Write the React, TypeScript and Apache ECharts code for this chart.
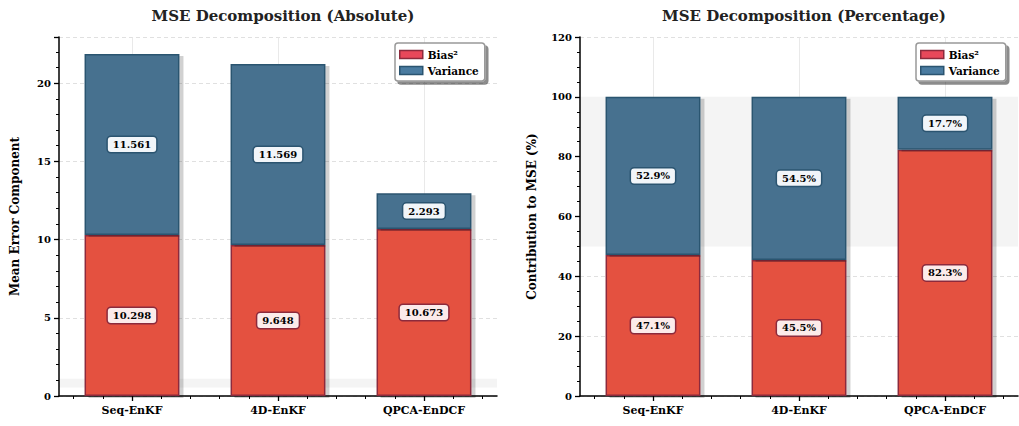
import React, { useEffect, useRef } from "react";
import * as echarts from "echarts";

const categories = ["Seq-EnKF", "4D-EnKF", "QPCA-EnDCF"];
const absBias = [10.298, 9.648, 10.673];
const absVariance = [11.561, 11.569, 2.293];
const pctBias = [47.1, 45.5, 82.3];
const pctVariance = [52.9, 54.5, 17.7];
const minorCats = Array.from({ length: 15 }, (_, i) => "m" + i);

const FONT = "DejaVu Serif";
const RED = "#e4513f";
const RED_EDGE = "#8c2a3c";
const BLUE = "#46718f";
const BLUE_EDGE = "#2b5470";

function App() {
  const ref = useRef<HTMLDivElement>(null);
  useEffect(() => {
    const chart = echarts.init(ref.current!, null, { renderer: "svg" });
    const grids = [
      { left: 59, right: 522, top: 37, bottom: 30 },
      { left: 580, right: 1, top: 37, bottom: 30 },
    ];
    const majorX = (g: number) => ({
      type: "category",
      gridIndex: g,
      data: categories,
      axisLine: { show: true, lineStyle: { color: "#000", width: 1.5 } },
      axisTick: { show: true, alignWithLabel: true, length: 5, lineStyle: { color: "#000", width: 1.3 } },
      axisLabel: { color: "#000", fontFamily: FONT, fontWeight: "bold", fontSize: 11, margin: 9 },
      splitLine: { show: false },
    });
    const minorX = (g: number) => ({
      type: "category",
      gridIndex: g,
      data: minorCats,
      position: "bottom",
      axisLine: { show: false },
      axisTick: { show: true, alignWithLabel: true, interval: 0, length: 3, lineStyle: { color: "#000", width: 1 } },
      axisLabel: { show: false },
      splitLine: { show: false },
    });
    const yAx = (g: number, max: number, interval: number, split: number, name: string, gap: number) => ({
      type: "value",
      gridIndex: g,
      min: 0,
      max,
      interval,
      name,
      nameLocation: "middle",
      nameGap: gap,
      nameTextStyle: { color: "#000", fontFamily: FONT, fontWeight: "bold", fontSize: 12 },
      axisLine: { show: true, lineStyle: { color: "#000", width: 1.5 } },
      axisTick: { show: true, length: 5, lineStyle: { color: "#000", width: 1.3 } },
      minorTick: { show: true, splitNumber: split, length: 3, lineStyle: { color: "#000", width: 1 } },
      axisLabel: { color: "#000", fontFamily: FONT, fontWeight: "bold", fontSize: 10, margin: 8, showMaxLabel: max === 120 },
      splitLine: { show: true, lineStyle: { color: "#d8d8d8", type: [4, 3], width: 0.8 } },
      minorSplitLine: { show: false },
    });
    const barSeries = (
      name: string,
      data: number[],
      xi: number,
      yi: number,
      stack: string,
      color: string,
      edge: string,
      fmt: (v: number) => string,
      labelBg: string
    ) => ({
      type: "bar",
      name,
      data,
      xAxisIndex: xi,
      yAxisIndex: yi,
      stack,
      barWidth: "65%",
      z: 3,
      itemStyle: {
        color,
        borderColor: edge,
        borderWidth: 1.5,
        shadowColor: "rgba(0,0,0,0.18)",
        shadowOffsetX: 4,
        shadowOffsetY: 2,
        shadowBlur: 1,
      },
      label: {
        show: true,
        position: "inside",
        formatter: (p: any) => fmt(p.value),
        color: "#000",
        fontFamily: FONT,
        fontWeight: "bold",
        fontSize: 10,
        backgroundColor: labelBg,
        borderColor: edge,
        borderWidth: 1.5,
        borderRadius: 3,
        padding: [3, 5, 2, 5],
      },
    });
    const helper = (xi: number, yi: number, band: [number, number]) => ({
      type: "line",
      name: "helper" + xi,
      xAxisIndex: xi,
      yAxisIndex: yi,
      data: [null, null, null],
      showSymbol: false,
      silent: true,
      z: 1,
      markLine: {
        silent: true,
        z: 1,
        symbol: "none",
        label: { show: false },
        lineStyle: { color: "#e3e3e3", type: "solid", width: 0.8 },
        data: categories.map((c) => ({ xAxis: c })),
      },
      markArea: {
        silent: true,
        z: 0,
        itemStyle: { color: "#f4f4f4" },
        data: [[{ yAxis: band[0] }, { yAxis: band[1] }]],
      },
    });
    const legend = (left: number) => ({
      left,
      top: 43,
      orient: "vertical",
      itemWidth: 23,
      itemHeight: 8,
      itemGap: 5,
      padding: [6, 6, 5, 4],
      backgroundColor: "#fff",
      borderColor: "#999",
      borderWidth: 1.5,
      borderRadius: 3,
      shadowColor: "rgba(0,0,0,0.45)",
      shadowOffsetX: 3,
      shadowOffsetY: 3,
      shadowBlur: 0,
      textStyle: { color: "#000", fontFamily: FONT, fontWeight: "bold", fontSize: 10.5 },
      data: [
        { name: "Bias²", icon: "rect", itemStyle: { color: "#e8485a", borderColor: RED_EDGE, borderWidth: 1.5 } },
        { name: "Variance", icon: "rect", itemStyle: { color: "#4a7ba0", borderColor: BLUE_EDGE, borderWidth: 1.5 } },
      ],
    });
    const absFmt = (v: number) => v.toFixed(3);
    const pctFmt = (v: number) => v.toFixed(1) + "%";
    const titleStyle = { color: "#222", fontFamily: FONT, fontWeight: "bold", fontSize: 15 };
    chart.setOption({
      animation: false,
      backgroundColor: "#fff",
      title: [
        { text: "MSE Decomposition (Absolute)", left: 278, top: 3, textAlign: "center", textStyle: titleStyle },
        { text: "MSE Decomposition (Percentage)", left: 799, top: 3, textAlign: "center", textStyle: titleStyle },
      ],
      legend: [legend(395), legend(916)],
      grid: grids,
      xAxis: [majorX(0), minorX(0), majorX(1), minorX(1)],
      yAxis: [
        yAx(0, 22.95, 5, 5, "Mean Error Component", 38),
        yAx(1, 120, 20, 4, "Contribution to MSE (%)", 42),
      ],
      series: [
        helper(0, 0, [0.55, 1.1]),
        helper(2, 1, [50, 100]),
        barSeries("Bias²", absBias, 0, 0, "abs", RED, RED_EDGE, absFmt, "#fcebea"),
        barSeries("Variance", absVariance, 0, 0, "abs", BLUE, BLUE_EDGE, absFmt, "#f1f5f9"),
        barSeries("Bias²", pctBias, 2, 1, "pct", RED, RED_EDGE, pctFmt, "#fcebea"),
        barSeries("Variance", pctVariance, 2, 1, "pct", BLUE, BLUE_EDGE, pctFmt, "#f1f5f9"),
      ],
    });
    return () => chart.dispose();
  }, []);
  return (
    <div
      ref={ref}
      style={{ position: "fixed", left: 0, top: 0, width: 1019, height: 426 }}
    />
  );
}

export default App;
